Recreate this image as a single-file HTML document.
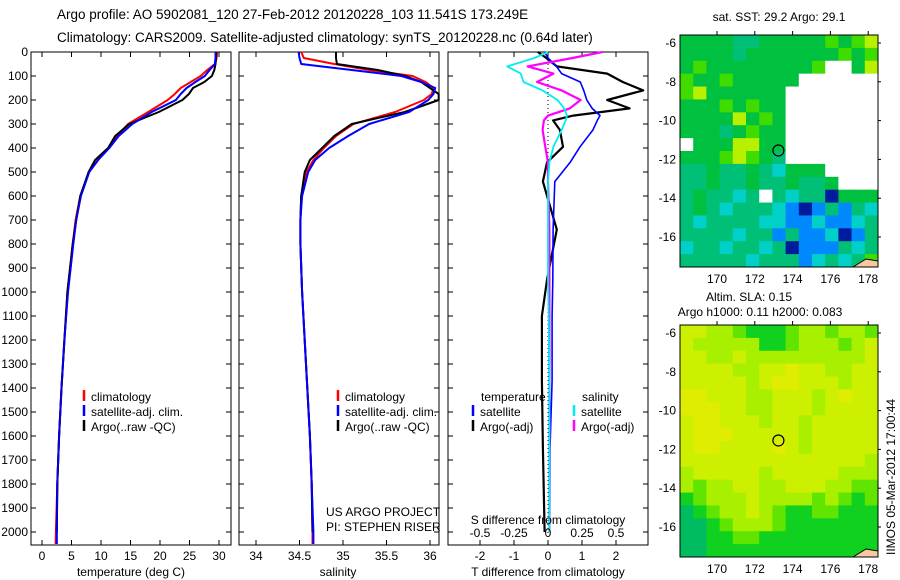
<!DOCTYPE html>
<html><head><meta charset="utf-8">
<style>
body{margin:0;background:#fff;width:900px;height:580px;overflow:hidden}
svg{display:block;font-family:"Liberation Sans",sans-serif}
text{font-size:12px;fill:#000}
</style></head>
<body>
<svg id="fig" width="900" height="580" viewBox="0 0 900 580">
<text x="57" y="19" style="font-size:13.5px">Argo profile: AO 5902081_120 27-Feb-2012 20120228_103 11.541S 173.249E</text>
<text x="57" y="42" style="font-size:13.5px">Climatology: CARS2009. Satellite-adjusted climatology: synTS_20120228.nc (0.64d later)</text>
<g id="g1"></g>
<g id="g2"></g>
<g id="g3"></g>
<g id="m1"></g>
<g id="m2"></g>
<text x="779" y="21" text-anchor="middle">sat. SST: 29.2  Argo: 29.1</text>
<text x="749" y="301" text-anchor="middle">Altim. SLA: 0.15</text>
<text x="760" y="316" text-anchor="middle">Argo h1000: 0.11 h2000: 0.083</text>
<text transform="translate(895,555) rotate(-90)">IIMOS 05-Mar-2012 17:00:44</text>
</svg>
<script>
const depths=[0,25,50,75,100,125,150,175,200,250,300,350,400,450,500,600,700,800,1000,1200,1400,1600,1800,2000,2050];
const tempClim=[29.7,29.6,29.3,28.0,26.9,25.2,23.5,22.5,21.3,18.0,14.6,12.7,11.3,9.5,8.0,6.5,5.7,5.2,4.3,3.8,3.3,2.9,2.6,2.35,2.3];
const tempSat=[29.4,29.4,29.3,28.4,27.6,26.0,24.5,23.5,22.7,18.6,15.3,13.0,11.4,9.5,8.0,6.6,5.8,5.3,4.4,3.8,3.3,2.9,2.6,2.5,2.5];
const tempArgo=[29.5,29.5,29.4,29.2,28.8,27.5,25.6,24.9,23.8,19.8,14.8,12.4,11.2,9.0,7.9,6.5,5.8,5.2,4.3,3.8,3.3,2.9,2.6,2.5,2.5];
const salClim=[34.52,34.55,34.9,35.3,35.8,35.95,36.04,36.02,35.93,35.6,35.12,34.92,34.78,34.66,34.58,34.52,34.51,34.51,34.53,34.56,34.59,34.62,34.64,34.65,34.65];
const salSat=[34.49,34.5,34.52,35.1,35.67,35.9,36.06,36.04,35.98,35.76,35.3,35.06,34.84,34.68,34.6,34.53,34.51,34.51,34.53,34.56,34.59,34.62,34.64,34.66,34.66];
const salArgo=[34.92,34.92,34.93,35.4,35.71,35.9,36.0,36.1,36.1,35.71,35.1,34.9,34.76,34.62,34.56,34.52,34.51,34.51,34.53,34.56,34.59,34.62,34.64,34.65,34.65];
const diffDepth=[0,25,60,90,125,160,200,235,265,285,325,395,460,540,740,950,1100,1370,1650,2000];
const tDiffSat=[-0.1,0,0.25,0.4,0.95,1.05,1.14,1.3,1.53,1.45,1.32,0.94,0.65,0.2,0.15,0.14,0.12,0.12,0.06,0.05];
const tDiffArgo=[-0.3,-0.05,0.26,1.74,2.2,2.8,1.74,2.4,0.74,0.15,0.35,0.44,-0.03,-0.15,0.26,-0.03,-0.18,-0.18,-0.15,-0.1];
const sDiffSat=[0,-0.1,-0.3,-0.2,-0.18,-0.04,0.07,0.12,0.14,0.13,0.1,0.04,0.01,0,0,0,0.005,0.01,0.01,0.01];
const sDiffArgo=[0.4,0.18,-0.15,0.04,-0.08,0.1,0.24,0.16,0,-0.03,-0.04,-0.02,0,0,0.01,0.01,0.01,0.01,0.01,0.01];
const depthTicks=[0,100,200,300,400,500,600,700,800,900,1000,1100,1200,1300,1400,1500,1600,1700,1800,1900,2000];
const tempTicks=[0,5,10,15,20,25,30];
const salTicks=[34,34.5,35,35.5,36];
const salTickLabels=["34","34.5","35","35.5","36"];
const tTicks=[-2,-1,0,1,2];
const sTicks=[-0.5,-0.25,0,0.25,0.5];
const sTickLabels=["-0.5","-0.25","0","0.25","0.5"];
const lonTicks=[170,172,174,176,178];
const latTicks=[-6,-8,-10,-12,-14,-16];
const sstGrid=["GGGGTTGGGGGgGgy","GGGGTGGGGGGGgGg","GgGGGGGGGGgwwGy","gGGgGGGGGwwwwww","gyGGGGGGwwwwwww","GGGgGgGGwwwwwww","GGGGyGgGwwwwwww","GGGTGgGGwwwwwww","wGGGyyGGwwwwwww","GGGgygGTwwwwwww","TTGTTGTcGGGwwww","TTGTTGTTGTTGwww","TGTTcTwTcTTdGGG","TGTcTTTcbdbTbTc","TcTTTTccbbcbbcT","TTTTcTTbTbbcdbT","cTTcTTcTdbbbTcT","TTTTTcTTTbcTcTg"];
const slaGrid=["YYLLgGGGgLLgLLg","YLLLLLGGgLLLgLY","YYLLYLLLLLLLLLY","YYYYLLYYOYYLLYY","YYYYYLYOOYYYLYY","OOYYYLLYYYLYOYY","OOOYYLLYYYLYYYY","YOOYYYLYYLYYYYY","YOOOYYYYYLYYYYY","YOOYYYYOYLYYYYY","YYYYYYYYYYYYYYL","LYYYYYLYYYYYLLL","LgLLYYLLYYYLLgg","GgLLLYLLLLgLgGg","TGgLLYLgGGggGGG","TTGgLLLgGGGGGGG","TTGGggGGGGGGGGG","TTGGGGGGGGGGGGG"];
const argoLon=173.249, argoLat=-11.541;

const NS="http://www.w3.org/2000/svg";
function mk(parent,tag,attrs,txt){const e=document.createElementNS(NS,tag);for(const k in attrs)e.setAttribute(k,attrs[k]);if(txt!==undefined)e.textContent=txt;parent.appendChild(e);return e;}
const yD=d=>52+d*0.24;
const FT=52,FB=545;

function frame(g,x0,x1){const r=mk(g,'rect',{x:x0,y:FT,width:x1-x0,height:FB-FT,fill:'none',stroke:'#000','stroke-width':1});

}
function depthAxis(g,x0,x1,labels){depthTicks.forEach(d=>{const y=yD(d);
const t1=mk(g,'line',{x1:x0,x2:x0+5,y1:y,y2:y,stroke:'#000'});


const t2=mk(g,'line',{x1:x1-5,x2:x1,y1:y,y2:y,stroke:'#000'});


if(labels){const t=mk(g,'text',{x:28,y:y+4,'text-anchor':'end'},String(d));

}});}
function xTicks(g,vals,labs,fx,ly,top){vals.forEach((v,i)=>{const x=fx(v);
const l=mk(g,'line',{x1:x,x2:x,y1:FB,y2:FB-5,stroke:'#000'});


if(top){const l2=mk(g,'line',{x1:x,x2:x,y1:FT,y2:FT+5,stroke:'#000'});

}
const t=mk(g,'text',{x:x,y:ly,'text-anchor':'middle'},labs[i]);

});}
function line(g,xs,ds,fx,col,name,w){const pts=xs.map((v,i)=>fx(v).toFixed(1)+','+yD(ds[i]).toFixed(1)).join(' ');
const p=mk(g,'polyline',{points:pts,fill:'none',stroke:col,'stroke-width':w||2,'stroke-linejoin':'round'});

}
function legendRow(g,x,y,col,label){const l=mk(g,'line',{x1:x,x2:x,y1:y-11,y2:y,stroke:col,'stroke-width':2.5});


const t=mk(g,'text',{x:x+7,y:y},label);

}

const g1=document.getElementById('g1');
const fxT=v=>42+v*5.9;
frame(g1,31,231);depthAxis(g1,31,231,true);
xTicks(g1,tempTicks,tempTicks.map(String),fxT,560,true);
line(g1,tempClim,depths,fxT,'#f00','temp-climatology-line');
line(g1,tempSat,depths,fxT,'#00f','temp-satellite-line');
line(g1,tempArgo.slice(0,24),depths.slice(0,24),fxT,'#000','temp-argo-line');
line(g1,tempSat,depths,fxT,'#00f','temp-satellite-line-top',1.6);
const xl1=mk(g1,'text',{x:131,y:576,'text-anchor':'middle'},'temperature (deg C)');


legendRow(g1,84,401,'#f00','climatology');legendRow(g1,84,416,'#00f','satellite-adj. clim.');legendRow(g1,84,431,'#000','Argo(..raw -QC)');

const g2=document.getElementById('g2');
const fxS=v=>256+(v-34)*87;
frame(g2,239,439);depthAxis(g2,239,439,false);
xTicks(g2,salTicks,salTickLabels,fxS,560,true);
line(g2,salClim,depths,fxS,'#f00','sal-climatology-line');
line(g2,salArgo.slice(0,24),depths.slice(0,24),fxS,'#000','sal-argo-line');
line(g2,salSat,depths,fxS,'#00f','sal-satellite-line');
const xl2=mk(g2,'text',{x:338,y:576,'text-anchor':'middle'},'salinity');


legendRow(g2,338,401,'#f00','climatology');legendRow(g2,338,416,'#00f','satellite-adj. clim.');legendRow(g2,338,431,'#000','Argo(..raw -QC)');
const pj=mk(g2,'text',{x:326,y:516},'US ARGO PROJECT');


const pi=mk(g2,'text',{x:326,y:531},'PI: STEPHEN RISER');



const g3=document.getElementById('g3');
const fxD=v=>548+v*34, fxSD=v=>548+v*136;
frame(g3,448,648);depthAxis(g3,448,648,false);
xTicks(g3,tTicks,tTicks.map(String),fxD,560,true);
const zl=mk(g3,'line',{x1:548,x2:548,y1:FT,y2:FB,stroke:'#000','stroke-dasharray':'1,3'});


line(g3,tDiffArgo,diffDepth,fxD,'#000','t-diff-argo-line',2.2);
line(g3,tDiffSat,diffDepth,fxD,'#00f','t-diff-satellite-line',1.6);
line(g3,sDiffArgo,diffDepth,fxSD,'#f0f','s-diff-argo-line',2.2);
line(g3,sDiffSat,diffDepth,fxSD,'#0ee','s-diff-satellite-line',1.8);
sTicks.forEach((v,i)=>{const t=mk(g3,'text',{x:fxSD(v),y:537,'text-anchor':'middle'},sTickLabels[i]);

});
const st=mk(g3,'text',{x:548,y:524,'text-anchor':'middle'},'S difference from climatology');


const tt=mk(g3,'text',{x:548,y:576,'text-anchor':'middle'},'T difference from climatology');


const lt=mk(g3,'text',{x:481,y:401},'temperature');


const ls=mk(g3,'text',{x:582,y:401},'salinity');


legendRow(g3,473,416,'#00f','satellite');legendRow(g3,473,431,'#000','Argo(-adj)');
legendRow(g3,574,416,'#0ee','satellite');legendRow(g3,574,431,'#f0f','Argo(-adj)');

const colsSST={G:'#00c040',T:'#00c078',g:'#40dc00',y:'#b8f000',c:'#00d0c8',b:'#0088ff',d:'#001c9c',w:'#ffffff'};
const colsSLA={G:'#10d020',T:'#00bc60',g:'#60e400',Y:'#ccf000',O:'#e0ec00',L:'#a8f000'};
function map(id,grid,cols,top,bot,lat6y,lat16y){const g=document.getElementById(id);
const L=680,R=878,W=R-L,H=bot-top;const nr=grid.length,nc=grid[0].length;
const fxL=lon=>717+(lon-170)*18.9;const fyL=lat=>lat6y+(-6-lat)*(lat16y-lat6y)/10;
grid.forEach((row,r)=>{for(let c=0;c<nc;c++){const x=L+c*W/nc,y=top+r*H/nr;
const cell=mk(g,'rect',{x:x.toFixed(2),y:y.toFixed(2),width:(W/nc+0.4).toFixed(2),height:(H/nr+0.4).toFixed(2),fill:cols[row[c]]});

}});
const f=mk(g,'rect',{x:L,y:top,width:W,height:H,fill:'none',stroke:'#000'});


lonTicks.forEach(v=>{const x=fxL(v);
const tk=mk(g,'line',{x1:x,x2:x,y1:top,y2:top-4,stroke:'#000'});


const t=mk(g,'text',{x:x,y:bot+16,'text-anchor':'middle'},String(v));

});
latTicks.forEach(v=>{const y=fyL(v);
const tk=mk(g,'line',{x1:R,x2:R+3,y1:y,y2:y,stroke:'#000'});


const t=mk(g,'text',{x:676,y:y+4,'text-anchor':'end'},String(v));

});
const c=mk(g,'circle',{cx:fxL(argoLon),cy:fyL(argoLat),r:5.5,fill:'none',stroke:'#000','stroke-width':1.2});


const land=mk(g,'path',{d:`M${R-25},${bot} L${R-12},${bot-8} L${R},${bot-6} L${R},${bot} Z`,fill:'#f8c8a0',stroke:'#000'});

}
map('m1',sstGrid,colsSST,35,267,43,237);
map('m2',slaGrid,colsSLA,325,557,333,527);
</script>
</body></html>
